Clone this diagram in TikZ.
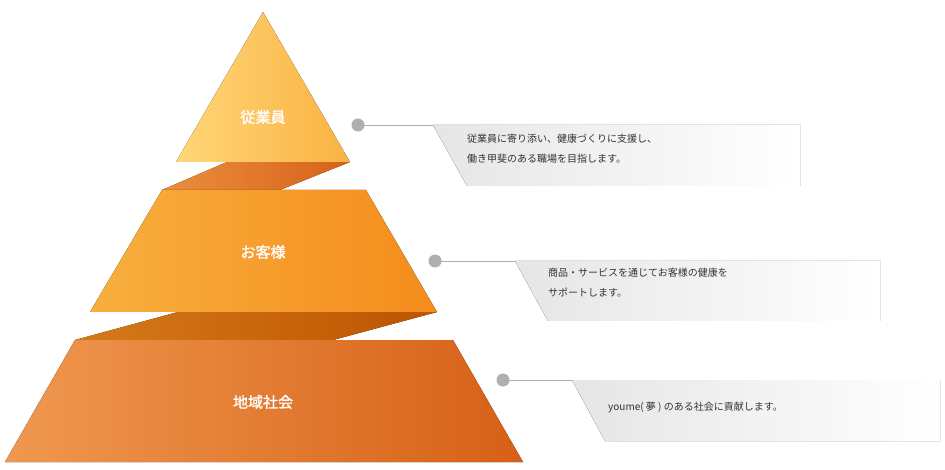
\documentclass[tikz,border=0pt]{standalone}
\usepackage{fontspec}
\setmainfont{Noto Sans CJK JP}
\newfontfamily\cjkbold[FakeBold=1.5]{Noto Sans CJK JP}
\definecolor{lvTopA}{RGB}{255,214,120}
\definecolor{lvTopB}{RGB}{250,178,66}
\definecolor{lvMidA}{RGB}{248,175,62}
\definecolor{lvMidB}{RGB}{244,140,28}
\definecolor{lvBotA}{RGB}{240,152,80}
\definecolor{lvBotB}{RGB}{214,96,22}
\definecolor{bandA}{RGB}{236,142,62}
\definecolor{bandB}{RGB}{214,98,26}
\definecolor{bandC}{RGB}{212,122,26}
\definecolor{bandD}{RGB}{190,84,0}
\definecolor{dotgray}{RGB}{175,175,175}
\tikzset{
  level/.style={draw=none},
  lvtext/.style={text=white,font=\cjkbold\fontsize{15}{15}\selectfont},
  note/.style={anchor=north west,inner sep=0pt,align=left,font=\fontsize{10}{20}\selectfont,text=black!80},
  callout/.style={draw=none,left color=black!10,right color=white},
  lead/.style={draw=dotgray,line width=0.8pt}
}
\begin{document}
\begin{tikzpicture}[x=1pt,y=-1pt]
	\useasboundingbox (0,0) rectangle (945,470);

	% Bands
	\fill [left color=bandA,right color=bandB] (227,162) -- (350,162) -- (280,190) -- (162,190) -- cycle;
	\fill [left color=bandC,right color=bandD] (178,312) -- (437,312) -- (333,340) -- (75,340) -- cycle;

	% Levels
	\fill [level,left color=lvTopA,right color=lvTopB] (263,12) -- (350,162) -- (176,162) -- cycle;
	\fill [level,left color=lvMidA,right color=lvMidB] (162,190) -- (366,190) -- (437,312) -- (90,312) -- cycle;
	\fill [level,left color=lvBotA,right color=lvBotB] (75,340) -- (453,340) -- (523,462) -- (5,462) -- cycle;

	\node [lvtext] (staff) at (263,117) {従業員};
	\node [lvtext] (guest) at (263,252) {お客様};
	\node [lvtext] (local) at (263,402) {地域社会};

	% Callouts
	\fill [callout] (433,125) -- (800,125) -- (800,186) -- (467,186) -- cycle;
	\fill [callout] (515,261) -- (880,261) -- (880,321) -- (548,321) -- cycle;
	\fill [callout] (572,380) -- (940,380) -- (940,441) -- (605,441) -- cycle;

	\coordinate (d1) at (358,125);
	\coordinate (d2) at (435,261);
	\coordinate (d3) at (503,380);
	\coordinate (e1) at (433,125);
	\coordinate (e2) at (515,261);
	\coordinate (e3) at (572,380);
	\foreach \i in {1,2,3}{
		\draw [lead] (d\i) -- (e\i);
		\fill [dotgray] (d\i) circle (6.5);
	}

	\node [note] (n1) at (467,134) {従業員に寄り添い、健康づくりに支援し、\\働き甲斐のある職場を目指します。};
	\node [note] (n2) at (548,268) {商品・サービスを通じてお客様の健康を\\サポートします。};
	\node [note] (n3) at (608,402) {youme( 夢 ) のある社会に貢献します。};
\end{tikzpicture}
\end{document}
